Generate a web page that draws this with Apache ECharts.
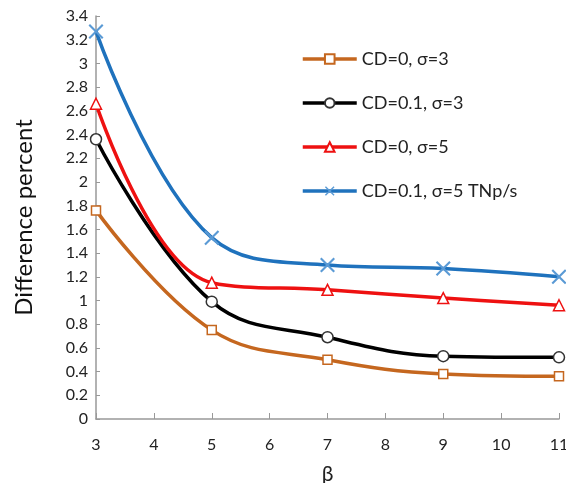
<!DOCTYPE html>
<html><head><meta charset="utf-8">
<script src="https://cdn.jsdelivr.net/npm/echarts@6/dist/echarts.min.js"></script>
<style>html,body{margin:0;padding:0;background:#fff}#c{width:566px;height:483px}</style>
</head><body><div id="c"></div>
<script>
const betas = [3, 5, 7, 9, 11];
const cd0s3 = [1.76, 0.75, 0.50, 0.38, 0.36];
const cd01s3 = [2.36, 0.99, 0.69, 0.53, 0.52];
const cd0s5 = [2.66, 1.15, 1.09, 1.02, 0.96];
const cd01s5 = [3.27, 1.53, 1.30, 1.27, 1.20];
const names = ['CD=0, σ=3', 'CD=0.1, σ=3', 'CD=0, σ=5', 'CD=0.1, σ=5 TNp/s'];

const pairs = v => betas.map((b, i) => [b, v[i]]);
const xPath = 'path://M0,1L1,0L5,4L9,0L10,1L6,5L10,9L9,10L5,6L1,10L0,9L4,5Z';
const font = 'Lato, "Liberation Sans", sans-serif';

const chart = echarts.init(document.getElementById('c'));
chart.setOption({
  animation: false,
  textStyle: { fontFamily: font },
  grid: { left: 96, right: 7, top: 16, bottom: 64, outerBoundsMode: 'none', containLabel: false },
  legend: {
    orient: 'vertical', left: 296, top: 45, itemGap: 26,
    itemWidth: 54, itemHeight: 12,
    lineStyle: { width: 3.5 },
    textStyle: { fontSize: 18, color: '#222', fontFamily: font },
    data: names
  },
  xAxis: {
    type: 'value', min: 3, max: 11, interval: 1,
    name: 'β', nameLocation: 'middle', nameGap: 45,
    nameTextStyle: { fontSize: 21, color: '#222', fontFamily: font },
    axisLine: { lineStyle: { color: '#999', width: 1.5 } },
    axisTick: { inside: true, length: 6, lineStyle: { color: '#999' } },
    axisLabel: { fontSize: 16, color: '#222', margin: 18 },
    splitLine: { show: false }
  },
  yAxis: {
    type: 'value', min: 0, max: 3.4, interval: 0.2,
    name: 'Difference percent', nameLocation: 'middle', nameGap: 60,
    nameTextStyle: { fontSize: 24, color: '#111', fontFamily: font },
    axisLine: { show: true, lineStyle: { color: '#999', width: 1.5 } },
    axisTick: { show: true, inside: true, length: 4, lineStyle: { color: '#999' } },
    axisLabel: { fontSize: 16, color: '#222', margin: 8 },
    splitLine: { show: false }
  },
  series: [
    { name: names[0], type: 'line', smooth: 0.4, data: pairs(cd0s3),
      symbol: 'rect', symbolSize: 9,
      lineStyle: { color: '#C5671F', width: 3.5 },
      itemStyle: { color: '#fff', borderColor: '#C5671F', borderWidth: 1.5 } },
    { name: names[1], type: 'line', smooth: 0.4, data: pairs(cd01s3),
      symbol: 'circle', symbolSize: 11,
      lineStyle: { color: '#000', width: 3.5 },
      itemStyle: { color: '#fff', borderColor: '#333', borderWidth: 1.5 } },
    { name: names[2], type: 'line', smooth: 0.4, data: pairs(cd0s5),
      symbol: 'triangle', symbolSize: 11,
      lineStyle: { color: '#EE1111', width: 3.5 },
      itemStyle: { color: '#fff', borderColor: '#EE1111', borderWidth: 1.5 } },
    { name: names[3], type: 'line', smooth: 0.4, data: pairs(cd01s5),
      symbol: xPath, symbolSize: 15,
      lineStyle: { color: '#1F72BD', width: 3.5 },
      itemStyle: { color: '#5A9AD5', borderWidth: 0 } }
  ]
});
</script></body></html>
